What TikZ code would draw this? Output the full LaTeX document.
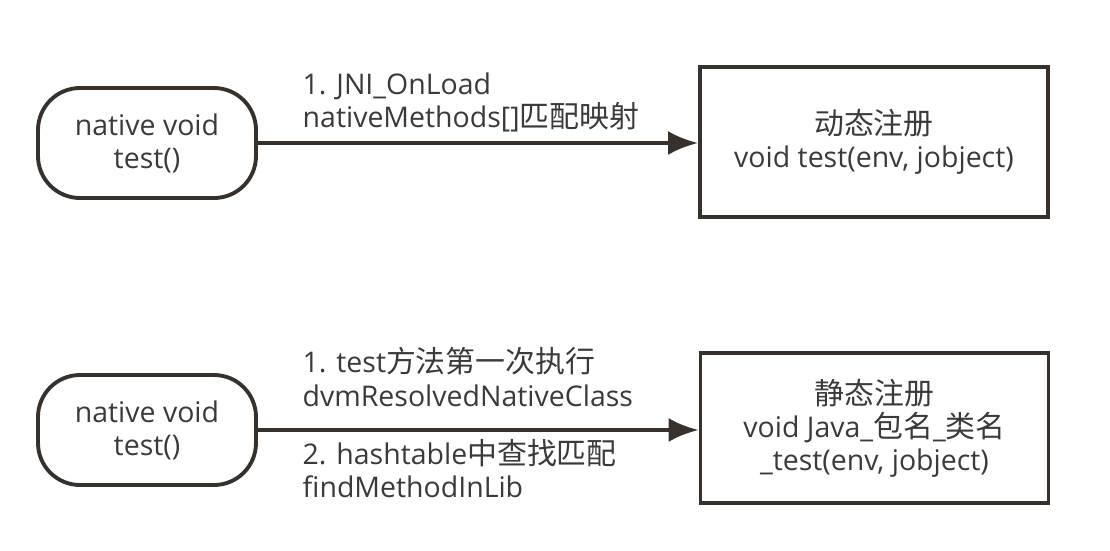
\documentclass[tikz,border=0pt]{standalone}
\usepackage{fontspec}
\setmainfont{Open Sans}
\newfontfamily\cjk[Scale=1.05]{Noto Sans CJK SC}
\usepackage{xcolor}
\definecolor{diagInk}{HTML}{37312E}
\definecolor{diagText}{HTML}{3A3A3A}
\usetikzlibrary{arrows.meta,positioning}

\begin{document}
\begin{tikzpicture}[
  font=\fontsize{8.1pt}{9.4pt}\selectfont,
  method/.style={draw=diagInk, line width=1.1pt, rounded corners=0.42cm, minimum width=2.18cm, minimum height=1.10cm, align=center, text=diagText},
  reg/.style={draw=diagInk, line width=1.1pt, minimum width=3.48cm, minimum height=1.50cm, align=center, text=diagText},
  call/.style={-{Latex[length=8.5pt,width=6.8pt]}, line width=1.1pt, diagInk},
  steplabel/.style={anchor=west, align=left, inner sep=0pt, text=diagText}
]
\useasboundingbox (0,0) rectangle (11.1,5.5);

% Nodes
\node[method] (nativeA) at (1.47,4.07) {native void\\test()};
\node[reg] (dynreg) at (8.74,4.08) {{\cjk 动态注册}\\void test(env, jobject)};
\node[method] (nativeB) at (1.47,1.20) {native void\\test()};
\node[reg] (staticreg) at (8.745,1.22) {{\cjk 静态注册}\\void Java\_{\cjk 包名}\_{\cjk 类名}\\\_test(env, jobject)};

% Dynamic registration
\draw[call] (nativeA.east) -- (nativeA.east -| dynreg.west);
\node[steplabel] (dynstep) at (3.02,4.48) {1. JNI\_OnLoad\\nativeMethods[]{\cjk 匹配映射}};

% Static registration
\draw[call] (nativeB.east) -- (nativeB.east -| staticreg.west);
\node[steplabel] (firstcall) at (3.02,1.73) {1. test{\cjk 方法第一次执行}\\dvmResolvedNativeClass};
\node[steplabel] (lookup) at (3.02,0.81) {2. hashtable{\cjk 中查找匹配}\\findMethodInLib};

\end{tikzpicture}
\end{document}
